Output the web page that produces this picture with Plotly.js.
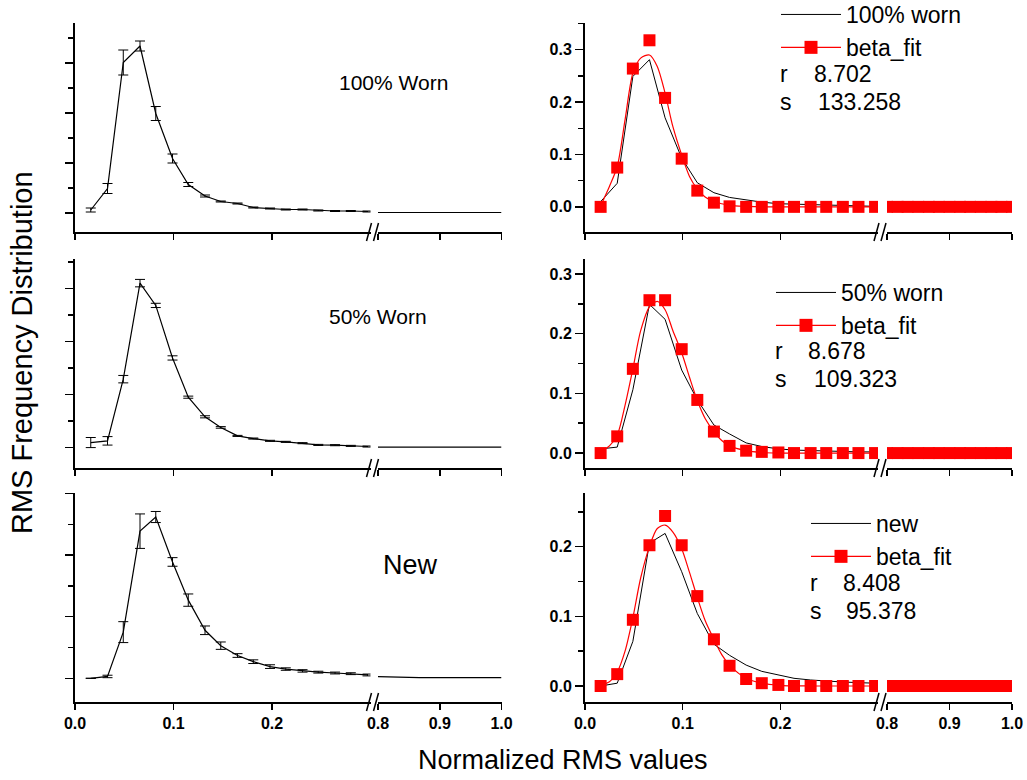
<!DOCTYPE html>
<html>
<head>
<meta charset="utf-8">
<script src="https://cdn.plot.ly/plotly-3.0.1.min.js"></script>
<style>html,body{margin:0;padding:0;background:#fff;}#chart{width:1027px;height:780px;}</style>
</head>
<body>
<div id="chart"></div>
<script>
// ---------- data ----------
const xSeg1 = [0.016, 0.033, 0.049, 0.066, 0.082, 0.099, 0.115, 0.132, 0.148, 0.165, 0.181, 0.198, 0.214, 0.231, 0.247, 0.264, 0.280, 0.297];
const xSeg2 = [0.800, 0.817, 0.833, 0.850, 0.867, 0.883, 0.900, 0.917, 0.933, 0.950, 0.967, 0.983, 1.000];
const xFit  = [0.016, 0.025, 0.033, 0.041, 0.049, 0.057, 0.066, 0.074, 0.082, 0.090, 0.099, 0.107, 0.115, 0.123, 0.132, 0.140, 0.148, 0.165, 0.181, 0.198, 0.231, 0.264, 0.297];

// left panels: mean distribution with error bars (arbitrary units)
const worn100Mean = [0.06, 0.49, 3.01, 3.34, 1.99, 1.09, 0.57, 0.34, 0.23, 0.19, 0.11, 0.09, 0.07, 0.07, 0.05, 0.04, 0.04, 0.03];
const worn100Err  = [0.04, 0.10, 0.25, 0.10, 0.14, 0.09, 0.04, 0.02, 0.01, 0.01, 0.01, 0.01, 0.01, 0.01, 0.01, 0.01, 0.01, 0.01];
const worn100Tail = [0.01, 0.01, 0.01, 0.01, 0.01, 0.01, 0.01, 0.01, 0.01, 0.01, 0.01, 0.01, 0.01];
const worn50Mean  = [0.095, 0.127, 1.29, 3.10, 2.68, 1.69, 0.95, 0.58, 0.38, 0.22, 0.17, 0.127, 0.108, 0.083, 0.05, 0.045, 0.032, 0.02];
const worn50Err   = [0.095, 0.08, 0.07, 0.07, 0.04, 0.04, 0.02, 0.02, 0.015, 0.01, 0.01, 0.01, 0.01, 0.01, 0.01, 0.01, 0.01, 0.01];
const worn50Tail  = [0.01, 0.01, 0.01, 0.01, 0.01, 0.01, 0.01, 0.01, 0.01, 0.01, 0.01, 0.01, 0.01];
const newMean     = [0.0, 0.03, 0.75, 2.39, 2.62, 1.89, 1.27, 0.78, 0.53, 0.37, 0.27, 0.19, 0.15, 0.12, 0.10, 0.086, 0.075, 0.054];
const newErr      = [0.0, 0.02, 0.17, 0.28, 0.09, 0.07, 0.10, 0.07, 0.06, 0.03, 0.03, 0.03, 0.02, 0.02, 0.015, 0.015, 0.015, 0.015];
const newTail     = [0.026, 0.02, 0.015, 0.012, 0.01, 0.01, 0.01, 0.01, 0.01, 0.01, 0.01, 0.01, 0.01];

// right panels: measured frequency (black line)
const freq100 = [0.010, 0.045, 0.249, 0.281, 0.170, 0.093, 0.046, 0.027, 0.018, 0.013, 0.009, 0.006, 0.005, 0.004, 0.003, 0.002, 0.002, 0.001];
const freq50  = [0.007, 0.010, 0.106, 0.249, 0.224, 0.139, 0.089, 0.047, 0.032, 0.017, 0.011, 0.007, 0.005, 0.004, 0.003, 0.003, 0.002, 0.002];
const freqNew = [0.000, 0.004, 0.064, 0.205, 0.219, 0.164, 0.104, 0.060, 0.044, 0.030, 0.021, 0.016, 0.011, 0.0086, 0.0067, 0.0057, 0.0048, 0.004];
const freqTail = [0.001, 0.001, 0.001, 0.001, 0.001, 0.001, 0.001, 0.001, 0.001, 0.001, 0.001, 0.001, 0.001];

// beta fit: binned points (red squares)
const fit100Pts = [0.0, 0.075, 0.264, 0.318, 0.208, 0.092, 0.031, 0.008, 0.001, 0, 0, 0, 0, 0, 0, 0, 0, 0];
const fit50Pts  = [0.0, 0.028, 0.141, 0.256, 0.256, 0.174, 0.089, 0.036, 0.012, 0.004, 0.002, 0.001, 0, 0, 0, 0, 0, 0];
const fitNewPts = [0.0, 0.017, 0.095, 0.202, 0.244, 0.202, 0.129, 0.067, 0.029, 0.010, 0.004, 0.0015, 0, 0, 0, 0, 0, 0];
const fitTail   = [0, 0, 0, 0, 0, 0, 0, 0, 0, 0, 0, 0, 0];

// beta fit: smooth curve (red line)
const fit100Curve = [0.002, 0.039, 0.077, 0.166, 0.255, 0.284, 0.290, 0.268, 0.217, 0.153, 0.099, 0.058, 0.034, 0.019, 0.010, 0.006, 0.003, 0.001, 0, 0, 0, 0, 0];
const fit50Curve  = [0.002, 0.012, 0.030, 0.080, 0.141, 0.205, 0.245, 0.254, 0.240, 0.205, 0.168, 0.127, 0.088, 0.058, 0.036, 0.021, 0.012, 0.004, 0.001, 0, 0, 0, 0];
const fitNewCurve = [0.001, 0.006, 0.020, 0.050, 0.098, 0.155, 0.200, 0.226, 0.231, 0.221, 0.197, 0.163, 0.127, 0.094, 0.067, 0.045, 0.030, 0.011, 0.004, 0.001, 0, 0, 0];

const leftLabels  = ['100% Worn', '50% Worn', 'New'];
const rightLabels = ['100% worn', '50% worn', 'new'];
const fitName = 'beta_fit';
const rParams = ['8.702', '8.678', '8.408'];
const sParams = ['133.258', '109.323', '95.378'];
const xTickVals1 = [0, 0.1, 0.2];
const xTickVals2 = [0.8, 0.9, 1.0];
const xTitle = 'Normalized RMS values';
const yTitle = 'RMS Frequency Distribution';

// ---------- layout helpers ----------
const W = 1027, H = 780;
const FONT = 'Liberation Sans, Arial, sans-serif';
const px = v => v / W;
const py = v => 1 - v / H;
const rowsPx = [[23, 232], [259, 468], [493, 702]];
const colSeg = [
  {s1: [75, 370.5], s2: [378, 501.5]},
  {s1: [585, 878], s2: [887, 1012]}
];
const yRanges = [
  [[-0.38, 3.8], [-0.048, 0.351]],
  [[-0.385, 3.555], [-0.025, 0.325]],
  [[-0.385, 3.01], [-0.023, 0.277]]
];

const leftMeans = [worn100Mean, worn50Mean, newMean];
const leftErrs = [worn100Err, worn50Err, newErr];
const leftTails = [worn100Tail, worn50Tail, newTail];
const freqs = [freq100, freq50, freqNew];
const fitPts = [fit100Pts, fit50Pts, fitNewPts];
const fitCurves = [fit100Curve, fit50Curve, fitNewCurve];

const ref = (p, n) => n === 1 ? p : p + n;
const key = (p, n) => n === 1 ? p + 'axis' : p + 'axis' + n;

const layout = {
  width: W, height: H,
  margin: {l: 0, r: 0, t: 0, b: 0, autoexpand: false},
  paper_bgcolor: '#fff', plot_bgcolor: 'rgba(0,0,0,0)',
  font: {family: FONT, color: '#000'},
  showlegend: true,
  shapes: [], annotations: []
};
const traces = [];

const RED = '#ff0000';
const legendKeys = ['legend', 'legend2', 'legend3'];
const legendPos = [[776, -7], [771, 271], [806, 502]];

for (let r = 0; r < 3; r++) {
  for (let c = 0; c < 2; c++) {
    const p = r * 2 + c;
    const yn = p + 1, xn1 = 2 * p + 1, xn2 = 2 * p + 2;
    const yr = ref('y', yn), xr1 = ref('x', xn1), xr2 = ref('x', xn2);
    const seg = colSeg[c];
    const [top, bot] = rowsPx[r];
    const yDom = [py(bot), py(top)];
    const baseAx = {
      showline: true, linewidth: 2, linecolor: '#000',
      ticks: 'outside', tickwidth: 1.5, tickcolor: '#000',
      showgrid: false, zeroline: false, fixedrange: true, automargin: false,
      tickfont: {family: FONT, size: 16, color: '#000', weight: 'bold'}
    };
    layout[key('x', xn1)] = Object.assign({}, baseAx, {
      domain: [px(seg.s1[0]), px(seg.s1[1])], range: [0, 0.3], anchor: yr,
      tickmode: 'array', tickvals: xTickVals1, ticktext: xTickVals1.map(v => v.toFixed(1)),
      ticklen: 6, showticklabels: r === 2
    });
    layout[key('x', xn2)] = Object.assign({}, baseAx, {
      domain: [px(seg.s2[0]), px(seg.s2[1])], range: [0.8, 1.0], anchor: yr,
      tickmode: 'array', tickvals: xTickVals2, ticktext: xTickVals2.map(v => v.toFixed(1)),
      ticklen: 6, showticklabels: r === 2
    });
    const yax = Object.assign({}, baseAx, {
      domain: yDom, range: yRanges[r][c], anchor: xr1, ticklen: 8
    });
    if (c === 0) {
      Object.assign(yax, {tick0: 0, dtick: 1, showticklabels: false,
        minor: {tick0: 0, dtick: 0.5, ticks: 'outside', ticklen: 5, tickwidth: 1.5, tickcolor: '#000', showgrid: false}});
    } else {
      Object.assign(yax, {tick0: 0, dtick: 0.1, tickformat: '.1f', showticklabels: true,
        minor: {tick0: 0, dtick: 0.05, ticks: 'outside', ticklen: 5, tickwidth: 1.5, tickcolor: '#000', showgrid: false}});
    }
    layout[key('y', yn)] = yax;

    // break marks
    const yb = bot;
    const bx = seg.s1[1];
    [[bx - 4, bx + 1], [bx + 3, bx + 8]].forEach(([a, b]) => {
      layout.shapes.push({type: 'line', xref: 'paper', yref: 'paper',
        x0: px(a), y0: py(yb + 9), x1: px(b), y1: py(yb - 9),
        line: {color: '#000', width: 1.5}});
    });

    if (c === 0) {
      traces.push({x: xSeg1, y: leftMeans[r], xaxis: xr1, yaxis: yr, mode: 'lines',
        line: {color: '#000', width: 1.2}, showlegend: false, cliponaxis: false,
        error_y: {type: 'data', array: leftErrs[r], visible: true, color: '#000', thickness: 1, width: 5}});
      traces.push({x: xSeg2, y: leftTails[r], xaxis: xr2, yaxis: yr, mode: 'lines',
        line: {color: '#000', width: 1.2}, showlegend: false});
    } else {
      const lg = legendKeys[r];
      traces.push({x: xSeg1, y: freqs[r], xaxis: xr1, yaxis: yr, mode: 'lines', name: rightLabels[r],
        line: {color: '#000', width: 1}, showlegend: true, legend: lg});
      traces.push({x: xSeg2, y: freqTail, xaxis: xr2, yaxis: yr, mode: 'lines',
        line: {color: '#000', width: 1}, showlegend: false});
      traces.push({x: xFit, y: fitCurves[r], xaxis: xr1, yaxis: yr, mode: 'lines',
        line: {color: RED, width: 1.2, shape: 'spline', smoothing: 0.8}, showlegend: false});
      traces.push({x: xSeg1, y: fitPts[r], xaxis: xr1, yaxis: yr, mode: 'markers',
        marker: {symbol: 'square', size: 12, color: RED}, showlegend: false});
      traces.push({x: xSeg2, y: fitTail, xaxis: xr2, yaxis: yr, mode: 'markers',
        marker: {symbol: 'square', size: 12, color: RED}, showlegend: false});
      // legend entry for the fit (line + marker symbol)
      traces.push({x: [null], y: [null], xaxis: xr1, yaxis: yr, mode: 'lines+markers', name: fitName,
        line: {color: RED, width: 1.2}, marker: {symbol: 'square', size: 13, color: RED},
        showlegend: true, legend: lg});
    }
  }
}

// legends
legendKeys.forEach((k, i) => {
  layout[k] = {x: px(legendPos[i][0]), y: py(legendPos[i][1]), xanchor: 'left', yanchor: 'top',
    xref: 'paper', yref: 'paper', bgcolor: 'rgba(0,0,0,0)', borderwidth: 0,
    font: {family: FONT, size: 23, color: '#000'}, itemwidth: 60, tracegroupgap: 0,
    itemclick: false, itemdoubleclick: false};
});

// left panel labels
const leftLabelPos = [[393, 83, 21], [378, 316, 21], [410, 565, 27]];
leftLabels.forEach((t, i) => {
  const [x, y, s] = leftLabelPos[i];
  layout.annotations.push({text: t, x: px(x), y: py(y), xref: 'paper', yref: 'paper',
    showarrow: false, xanchor: 'center', yanchor: 'middle', font: {family: FONT, size: s, color: '#000'}});
});

// r, s parameters
const paramPos = [
  {lx: 778, vx: 812, vx2: 816, ry: 74, sy: 102},
  {lx: 773, vx: 806, vx2: 812, ry: 351, sy: 379},
  {lx: 808, vx: 841, vx2: 844, ry: 583, sy: 611}
];
paramPos.forEach((q, i) => {
  const f = {family: FONT, size: 23, color: '#000'};
  layout.annotations.push({text: 'r', x: px(q.lx), y: py(q.ry), xref: 'paper', yref: 'paper', showarrow: false, xanchor: 'left', yanchor: 'middle', font: f});
  layout.annotations.push({text: rParams[i], x: px(q.vx), y: py(q.ry), xref: 'paper', yref: 'paper', showarrow: false, xanchor: 'left', yanchor: 'middle', font: f});
  layout.annotations.push({text: 's', x: px(q.lx), y: py(q.sy), xref: 'paper', yref: 'paper', showarrow: false, xanchor: 'left', yanchor: 'middle', font: f});
  layout.annotations.push({text: sParams[i], x: px(q.vx2), y: py(q.sy), xref: 'paper', yref: 'paper', showarrow: false, xanchor: 'left', yanchor: 'middle', font: f});
});

// axis titles
layout.annotations.push({text: xTitle, x: px(563), y: py(760), xref: 'paper', yref: 'paper', showarrow: false,
  xanchor: 'center', yanchor: 'middle', font: {family: FONT, size: 27, color: '#000'}});
layout.annotations.push({text: yTitle, x: px(22), y: py(353), xref: 'paper', yref: 'paper', showarrow: false,
  xanchor: 'center', yanchor: 'middle', textangle: -90, font: {family: FONT, size: 29, color: '#000'}});

Plotly.newPlot('chart', traces, layout, {staticPlot: true, displayModeBar: false});
</script>
</body>
</html>
